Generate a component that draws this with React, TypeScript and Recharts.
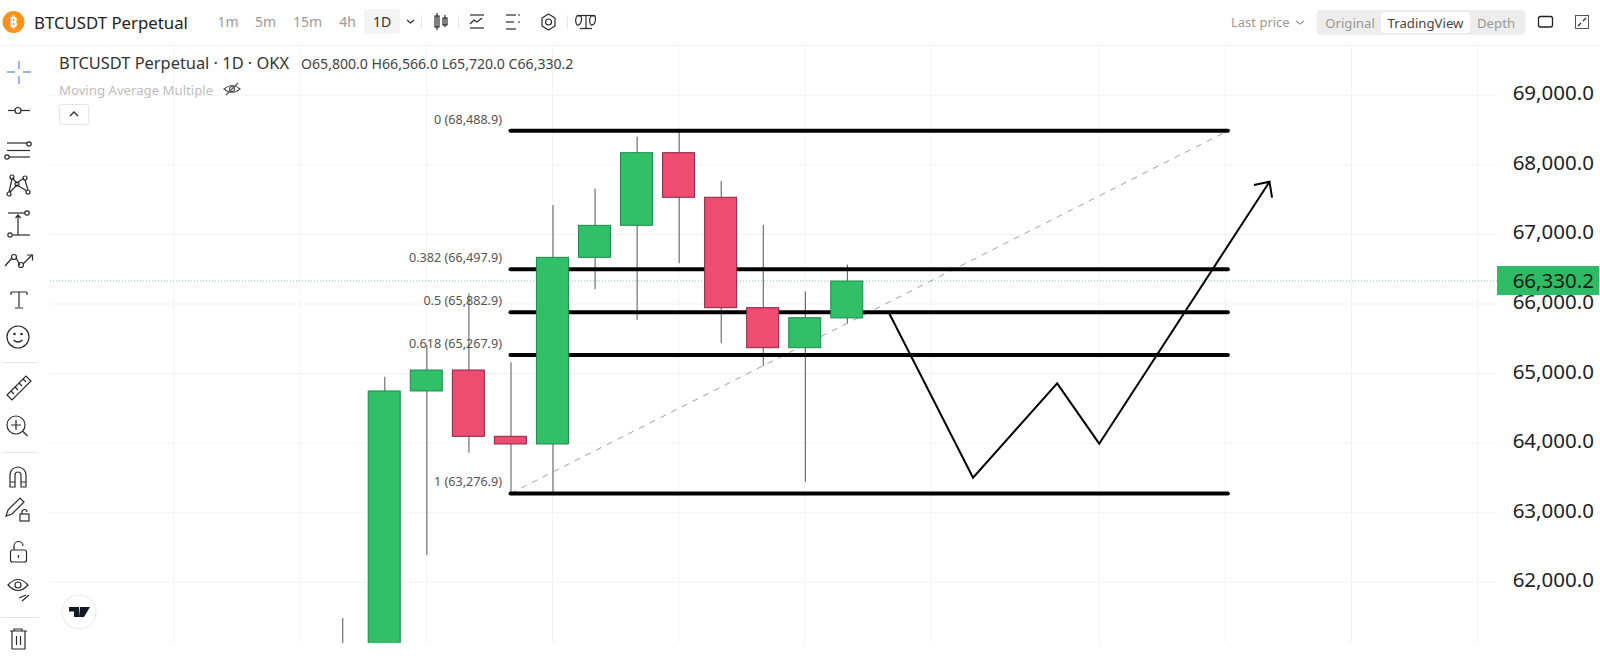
import React from "react";
import { ComposedChart, Bar, Line, XAxis, YAxis, CartesianGrid, ReferenceLine } from "recharts";

const candleIndex = [0, 1, 2, 3, 4, 5, 6, 7, 8, 9, 10, 11, 12];
const opens = [60900, 61000, 64750, 65051, 64098, 63988, 66671, 67131, 68175, 67534, 65947, 65372, 65800];
const highs = [61487, 64955, 65411, 66154, 65162, 67423, 67657, 68405, 68480, 67768, 67136, 66183, 66566];
const lows = [60600, 60800, 62392, 63863, 63277, 63290, 66211, 65774, 66585, 65435, 65109, 63446, 65720];
const closes = [61000, 64750, 65051, 64098, 63988, 66671, 67131, 68175, 67534, 65947, 65372, 65803, 66330.2];

const priceTicks = [62000, 63000, 64000, 65000, 66000, 67000, 68000, 69000];
const timeTicks = [-4, -1, 2, 5, 8, 11, 14, 18, 21, 24, 27];
const lastPrice = 66330.2;

const fibRatios = ["0", "0.382", "0.5", "0.618", "1"];
const fibPrices = [68488.9, 66497.9, 65882.9, 65267.9, 63276.9];
const fibStart = 4;
const fibEnd = 21.06;

const patternX = [12.99, 15, 17, 18, 22.05];
const patternY = [65885, 63503, 64860, 63992, 67758];
const arrowX = [21.68, 22.05, 22.11];
const arrowY = [67711, 67758, 67528];

const timeframes = ["1m", "5m", "15m", "4h"];
const timeframeX = [228, 265.5, 307.5, 347.5];

const candles = candleIndex.map((x, i) => ({
  x,
  body: [opens[i], closes[i]],
  wick: [lows[i], highs[i]],
  up: closes[i] >= opens[i],
}));

const fmt = (v: number) =>
  v.toLocaleString("en-US", { minimumFractionDigits: 1, maximumFractionDigits: 1 });

const FONT = "'Noto Sans', sans-serif";

const BodyShape = (p: any) => {
  const top = Math.min(p.y, p.y + p.height);
  const cx = p.x + p.width / 2;
  return (
    <rect
      x={cx - 16}
      y={top}
      width={32}
      height={Math.max(Math.abs(p.height), 1)}
      fill={p.payload.up ? "#31bf68" : "#ef4c72"}
      stroke={p.payload.up ? "#1c8a4c" : "#8f2343"}
      strokeWidth={1}
    />
  );
};

const PriceTick = (p: any) => (
  <text x={1594} y={p.y + 5} textAnchor="end" fontFamily={FONT} fontSize={20.5} fill="#222">
    {fmt(p.payload.value)}
  </text>
);

const TagLabel = (p: any) => {
  const y = p.viewBox.y;
  return (
    <g>
      <rect x={1497} y={y - 15} width={102} height={29} fill="#2fbb66" />
      <text x={1594} y={y + 7} textAnchor="end" fontFamily={FONT} fontSize={20.5} fill="#1a1a1a">
        {fmt(lastPrice)}
      </text>
    </g>
  );
};

const EmptyTick = () => <g />;

const TOP_GREY = "#9a9a9a";
const IC = "#2a2a2a";

function Chrome() {
  const s = { fill: "none", stroke: IC, strokeWidth: 1.2 };
  return (
    <svg
      width={1600}
      height={656}
      style={{ position: "absolute", left: 0, top: 0, pointerEvents: "none" }}
      fontFamily={FONT}
    >
      {/* header */}
      <rect x={0} y={0} width={1600} height={45} fill="#fff" />
      <line x1={0} x2={1600} y1={45.5} y2={45.5} stroke="#f2f2f2" />
      <circle cx={13.5} cy={22} r={11} fill="#f7931a" />
      <text x={13.5} y={27} textAnchor="middle" fontSize={14} fontWeight={700} fill="#fff">₿</text>
      <text x={34} y={29} fontSize={16.8} fill="#222">BTCUSDT Perpetual</text>
      {timeframes.map((t, i) => (
        <text key={t} x={timeframeX[i]} y={27} textAnchor="middle" fontSize={14} fill={TOP_GREY}>{t}</text>
      ))}
      <rect x={364} y={9} width={36} height={25} rx={4} fill="#f5f5f5" />
      <text x={382} y={27} textAnchor="middle" fontSize={14} fill="#333">1D</text>
      <path d="M407 20l3.5 3 3.5-3" {...s} />
      <line x1={421.5} x2={421.5} y1={15} y2={29} stroke="#e8e8e8" />
      <g {...s}>
        <rect x={435} y={16} width={4} height={11} /><line x1={437} x2={437} y1={13} y2={30} />
        <rect x={443} y={18} width={4} height={7} /><line x1={445} x2={445} y1={15} y2={27} />
      </g>
      <line x1={458.5} x2={458.5} y1={15} y2={29} stroke="#e8e8e8" />
      <g {...s}>
        <line x1={470} x2={484} y1={15} y2={15} /><line x1={470} x2={484} y1={28} y2={28} />
        <path d="M470 24l4-4 3 2 5-4" />
      </g>
      <g {...s}>
        <line x1={506} x2={516} y1={15} y2={15} /><line x1={506} x2={514} y1={22} y2={22} /><line x1={506} x2={516} y1={29} y2={29} />
        <line x1={518} x2={520} y1={15} y2={15} /><line x1={518} x2={520} y1={22} y2={22} />
      </g>
      <g {...s}>
        <circle cx={548.5} cy={22} r={3} />
        <path d="M548.5 14l6.5 4v8l-6.5 4-6.5-4v-8z" strokeLinejoin="round" />
      </g>
      <line x1={567.5} x2={567.5} y1={15} y2={29} stroke="#e8e8e8" />
      <g {...s}>
        <line x1={586} x2={586} y1={15} y2={28} /><line x1={580} x2={592} y1={28.5} y2={28.5} /><line x1={577} x2={595} y1={15.5} y2={15.5} />
        <path d="M577 16a4 6 0 0 0 0 9a4 6 0 0 0 4-9zM591 16a4 6 0 0 0 0 9a4 6 0 0 0 4-9z" />
      </g>

      <text x={1231} y={27} fontSize={13} fill="#999">Last price</text>
      <path d="M1296 21l4 3 4-3" fill="none" stroke="#999" strokeWidth={1.2} />
      <rect x={1316.5} y={10} width={209} height={25} rx={5} fill="#ededed" />
      <rect x={1381} y={12} width={89} height={21} rx={4} fill="#fff" />
      <text x={1350} y={28} textAnchor="middle" fontSize={13.2} fill="#999">Original</text>
      <text x={1425.5} y={28} textAnchor="middle" fontSize={13.2} fill="#444">TradingView</text>
      <text x={1496} y={28} textAnchor="middle" fontSize={13.2} fill="#999">Depth</text>
      <rect x={1538.5} y={16.5} width={14} height={10.5} rx={2} fill="none" stroke="#222" strokeWidth={1.3} />
      <rect x={1575.5} y={15.5} width={13} height={13} fill="none" stroke="#555" strokeWidth={1} />
      <path d="M1578 26l3-3M1586 18l-3 3" stroke="#222" strokeWidth={1.2} />

      {/* legend */}
      <text x={59} y={69} fontSize={16.4} fill="#333">BTCUSDT Perpetual · 1D · OKX</text>
      <text x={301} y={69} fontSize={14.1} fill="#444">O65,800.0 H66,566.0 L65,720.0 C66,330.2</text>
      <text x={59} y={95} fontSize={13.2} fill="#bdbdbd">Moving Average Multiple</text>
      <g fill="none" stroke="#555" strokeWidth={1.2}>
        <path d="M224 89q8-7 16 0q-8 7-16 0z" /><circle cx={232} cy={89} r={2.5} /><line x1={226} y1={95} x2={238} y2={83} />
      </g>
      <rect x={59.5} y={104.5} width={29} height={20} rx={2} fill="#fff" stroke="#e5e5e5" />
      <path d="M70 116l4-4 4 4" fill="none" stroke="#333" strokeWidth={1.4} />

      {/* left toolbar */}
      <rect x={0} y={46} width={46} height={610} fill="#fff" />
      <g fill="none" stroke="#5b7fd6" strokeWidth={1.2}>
        <line x1={19} x2={19} y1={61} y2={69} /><line x1={19} x2={19} y1={76} y2={84} />
        <line x1={7} x2={15} y1={72} y2={72} /><line x1={23} x2={31} y1={72} y2={72} />
      </g>
      <g {...s}>
        <line x1={8} x2={15} y1={110.5} y2={110.5} /><circle cx={18} cy={110.5} r={3} /><line x1={21} x2={30} y1={110.5} y2={110.5} />
        <line x1={7} x2={27} y1={143} y2={143} /><circle cx={29} cy={144} r={2.2} />
        <line x1={7} x2={30} y1={150.5} y2={150.5} />
        <line x1={9} x2={30} y1={157} y2={157} /><circle cx={7} cy={157} r={2.2} />
        <circle cx={12} cy={177} r={2} /><circle cx={25} cy={178} r={2} /><circle cx={9} cy={194} r={2} /><circle cx={28} cy={192} r={2} /><circle cx={17} cy={184} r={2} />
        <path d="M12 179l-3 13M12 178l5 5 7-5M25 180l3 10M10 192l7-7 10 6" />
        <line x1={8} x2={25} y1={213} y2={213} /><circle cx={27} cy={213} r={2.2} />
        <line x1={13} x2={30} y1={235} y2={235} /><circle cx={10} cy={235} r={2.2} />
        <path d="M18 235v-20M15.5 218l2.5-3 2.5 3" />
        <path d="M5 266l7-8M16 258l4 7M23 264l9-9" /><circle cx={14} cy={257} r={2.5} /><circle cx={21} cy={265} r={2.5} />
        <path d="M27 255h5.5v5.5" />
        <path d="M11 292h16M11 292v3M27 292v3M19 292v15M15 308h8" />
        <circle cx={18} cy={337} r={11} /><circle cx={14.5} cy={334} r={0.7} /><circle cx={21.5} cy={334} r={0.7} />
        <path d="M13.5 340q4.5 4 9 0" />
      </g>
      <line x1={2} x2={38} y1={362.5} y2={362.5} stroke="#e5e5e5" />
      <g {...s}>
        <path d="M7 395l19-19 5 5-19 19z" /><path d="M11 391l3 3M15 387l3 3M19 383l3 3M23 379l3 3" />
        <circle cx={16} cy={425} r={9} /><path d="M11 425h10M16 420v10M22.5 431l5 5" />
      </g>
      <line x1={2} x2={38} y1={452.5} y2={452.5} stroke="#e5e5e5" />
      <g {...s}>
        <path d="M10 487v-12a8 8 0 0 1 16 0v12h-5v-12a3 3 0 0 0-6 0v12z" /><path d="M10 482h5M21 482h5" />
        <path d="M8 510l12-12 4 4-12 12-6 2z" />
        <rect x={20} y={514} width={9} height={7} /><path d="M22 514v-2a2.5 2.5 0 0 1 5 0" />
        <rect x={10.5} y={550} width={16} height={12} rx={2} /><path d="M14 550v-4a4.5 4.5 0 0 1 9 0" /><line x1={18.5} x2={18.5} y1={555} y2={558} />
        <path d="M8 585q10-11 20 0q-10 11-20 0z" /><circle cx={18} cy={585} r={3} />
        <path d="M19 598l7-3M22 601l7-6" />
      </g>
      <line x1={2} x2={38} y1={617.5} y2={617.5} stroke="#e5e5e5" />
      <g {...s}>
        <path d="M10 631h17M14 631v-2h8v2M12 631v18h13v-18M16.5 636v9M20.5 636v9" />
      </g>
      <circle cx={79} cy={612} r={17} fill="#fff" stroke="#eeeeee" strokeWidth={1.2} />
      <path d="M69 607h10v10h-5v-5.5h-5zM80 607h10l-6 10h-5z" fill="#131722" />
    </svg>
  );
}

export default function App() {
  return (
    <div style={{ position: "absolute", left: 0, top: 0, width: 1600, height: 656, background: "#fff", overflow: "hidden" }}>
      <ComposedChart
        width={1600}
        height={656}
        data={candles}
        margin={{ top: 45, right: 0, bottom: 13, left: 50 }}
      >
        <CartesianGrid xAxisId="a" yAxisId="p" stroke="#f3f3f3" strokeWidth={1} syncWithTicks />
        <XAxis xAxisId="a" dataKey="x" type="number" scale="linear" domain={[-6.951, 27.46]} ticks={timeTicks} interval={0}
          allowDataOverflow tick={EmptyTick} tickLine={false} axisLine={false} height={0} />
        <XAxis xAxisId="b" dataKey="x" type="number" scale="linear" domain={[-6.951, 27.46]}
          allowDataOverflow hide />
        <YAxis yAxisId="p" orientation="right" width={103} type="number" domain={[61127, 69723]} ticks={priceTicks}
          allowDataOverflow tickLine={false} axisLine={false} tick={PriceTick} interval={0} />
        <ReferenceLine xAxisId="a" yAxisId="p" y={lastPrice} stroke="#7fd0a8" strokeDasharray="1 2" strokeWidth={1} />
        <Bar xAxisId="b" yAxisId="p" dataKey="wick" barSize={1} fill="#555555" isAnimationActive={false} zIndex={300} />
        <Line
          xAxisId="a" yAxisId="p" data={[{ x: fibStart, y: fibPrices[4] }, { x: fibEnd, y: fibPrices[0] }]}
          dataKey="y" dot={false} stroke="#a0a0a0" strokeWidth={1} strokeDasharray="6 6" isAnimationActive={false}
          legendType="none" zIndex={350}
        />
        {fibPrices.map((price, i) => (
          <Line
            key={fibRatios[i]}
            xAxisId="a" yAxisId="p"
            data={[{ x: fibStart, y: price }, { x: fibEnd, y: price }]}
            dataKey="y" dot={false} stroke="#000" strokeWidth={4} strokeLinecap="round"
            isAnimationActive={false}
            zIndex={360}
            label={(p: any) =>
              p.index === 0 ? (
                <text key="l" x={p.x - 8.5} y={p.y - 7} textAnchor="end" fontFamily={FONT} fontSize={12.6} fill="#555">
                  {`${fibRatios[i]} (${fmt(price)})`}
                </text>
              ) : (
                <g key="n" />
              )
            }
          />
        ))}
        <Bar xAxisId="a" yAxisId="p" dataKey="body" barSize={32} shape={BodyShape} isAnimationActive={false} zIndex={450} />
        <Line
          xAxisId="a" yAxisId="p" data={patternX.map((x, i) => ({ x, y: patternY[i] }))}
          dataKey="y" dot={false} stroke="#000" strokeWidth={2} isAnimationActive={false} zIndex={500}
        />
        <Line
          xAxisId="a" yAxisId="p" data={arrowX.map((x, i) => ({ x, y: arrowY[i] }))}
          dataKey="y" dot={false} stroke="#000" strokeWidth={2} isAnimationActive={false} zIndex={500}
        />
        <ReferenceLine xAxisId="a" yAxisId="p" y={lastPrice} stroke="none" label={TagLabel} zIndex={600} />
      </ComposedChart>
      <Chrome />
    </div>
  );
}
